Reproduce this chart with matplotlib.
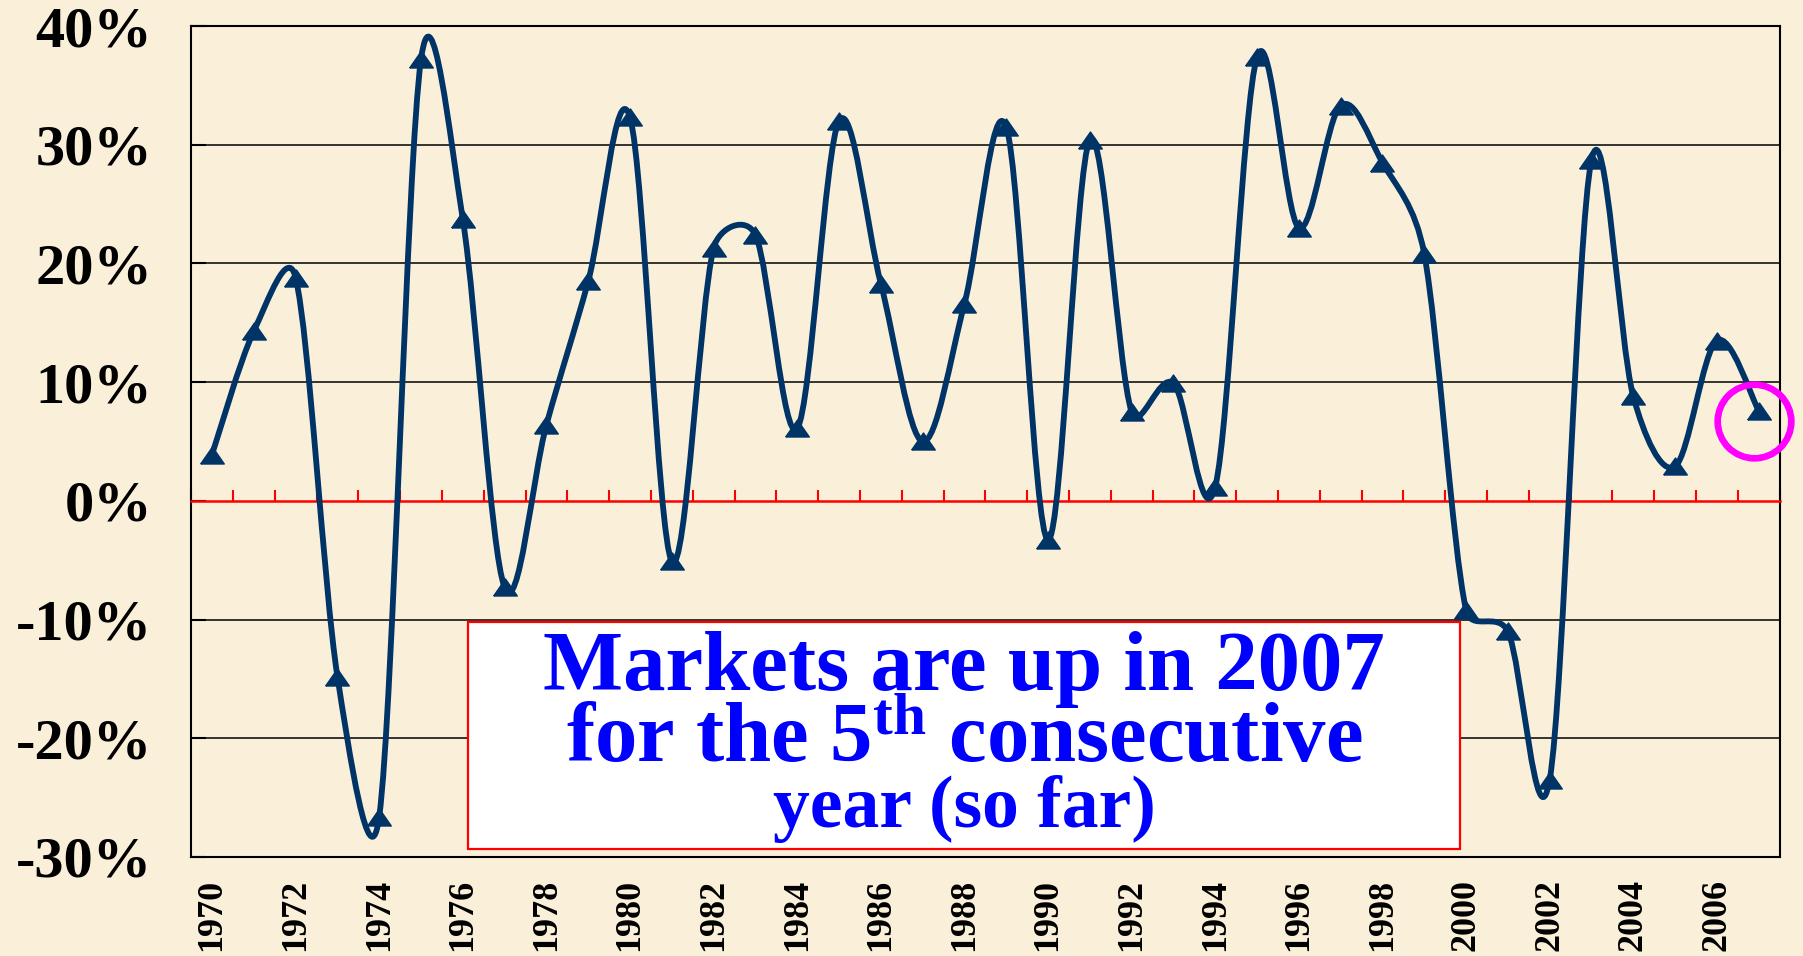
import numpy as np
import matplotlib
matplotlib.use("Agg")
import matplotlib.pyplot as plt
from matplotlib.path import Path
from matplotlib.patches import PathPatch, Rectangle
import matplotlib.transforms as mtransforms

# ---------------- data ----------------
years = list(range(1970, 2008))
returns = [3.9, 14.3, 18.8, -14.8, -26.6, 37.2, 23.7, -7.3, 6.4, 18.5,
           32.3, -5.1, 21.3, 22.4, 6.1, 32.0, 18.3, 5.0, 16.6, 31.5,
           -3.3, 30.4, 7.5, 9.9, 1.2, 37.4, 23.0, 33.3, 28.5, 20.8,
           -9.2, -11.0, -23.5, 28.7, 8.8, 2.9, 13.5, 7.6]
xtick_labels = [str(y) for y in years[::2]]
ytick_values = [-30, -20, -10, 0, 10, 20, 30, 40]
ytick_labels = [f"{v}%" for v in ytick_values]
box_line1 = "Markets are up in 2007"
box_line2 = r"for the 5$^{\mathrm{th}}$ consecutive"
box_line3 = "year (so far)"

# ---------------- style ----------------
BG = "#FAF0DA"
NAVY = "#003366"
SERIF = "Liberation Serif"
plt.rcParams["font.family"] = [SERIF, "DejaVu Serif"]
plt.rcParams["mathtext.fontset"] = "custom"
plt.rcParams["mathtext.rm"] = "Liberation Serif:bold"
plt.rcParams["mathtext.it"] = "Liberation Serif:bold"
plt.rcParams["mathtext.bf"] = "Liberation Serif:bold"

fig = plt.figure(figsize=(18.03, 9.56), dpi=100)
fig.patch.set_facecolor(BG)
ax = fig.add_axes([0.106, 0.1036, 0.881, 0.8692])
ax.set_facecolor(BG)

n = len(returns)
x = np.arange(n)
y = np.array(returns, dtype=float)
ax.set_xlim(-0.5, n - 0.5)
ax.set_ylim(ytick_values[0], ytick_values[-1])

# gridlines (black) except zero
for v in ytick_values:
    if v != 0:
        ax.axhline(v, color="black", lw=1.1, zorder=1)

# smoothed line: Excel-like bezier, control offsets (1/6 of the neighbour chord)
# capped at half the segment length, computed in screen space
pts = ax.transData.transform(np.column_stack([x, y]))
dverts = [pts[0]]
codes = [Path.MOVETO]
for i in range(n - 1):
    p0 = pts[max(i - 1, 0)]
    p1 = pts[i]
    p2 = pts[i + 1]
    p3 = pts[min(i + 2, n - 1)]
    half = np.hypot(*(p2 - p1)) / 2.0
    o1 = (p2 - p0) / 6.0
    o2 = (p3 - p1) / 6.0
    l1 = np.hypot(*o1)
    l2 = np.hypot(*o2)
    if l1 > half:
        o1 = o1 * half / l1
    if l2 > half:
        o2 = o2 * half / l2
    dverts += [p1 + o1, p2 - o2, p2]
    codes += [Path.CURVE4, Path.CURVE4, Path.CURVE4]
verts = ax.transData.inverted().transform(np.array(dverts))
curve = PathPatch(Path(verts, codes), facecolor="none", edgecolor=NAVY,
                  lw=4.2, zorder=3, capstyle="round", joinstyle="round")
ax.add_patch(curve)

tri = [(-1, -0.72), (1, -0.72), (0, 0.72), (-1, -0.72)]
ax.plot(x, y, linestyle="none", marker=tri, markersize=17,
        color=NAVY, zorder=4)

# highlight circle around last point
circ_tr = mtransforms.offset_copy(ax.transData, fig=fig, x=-5, y=-10, units="dots")
ax.plot([x[-1]], [y[-1]], linestyle="none", marker="o", markersize=53,
        markerfacecolor="none", markeredgecolor="#FF00FF", markeredgewidth=4.8,
        transform=circ_tr, clip_on=False, zorder=6)

# text box
ax.add_patch(Rectangle((0.1743, 0.0096), 0.6243, 0.2732, transform=ax.transAxes,
                       facecolor="white", edgecolor="red", lw=1.6, zorder=2))
fig.text(0.5347, 0.2782, box_line1, ha="center", va="baseline", color="#0000FF",
         fontsize=61, fontweight="bold", family=SERIF, zorder=7)
fig.text(0.5347, 0.2029, box_line2, ha="center", va="baseline", color="#0000FF",
         fontsize=61, fontweight="bold", family=SERIF, zorder=7)
fig.text(0.5347, 0.1349, box_line3, ha="center", va="baseline", color="#0000FF",
         fontsize=53, fontweight="bold", family=SERIF, zorder=7)

# zero axis (red) with upward ticks at category boundaries
ax.spines["bottom"].set_position(("data", 0))
ax.spines["bottom"].set_color("red")
ax.spines["bottom"].set_linewidth(1.8)
ax.spines["bottom"].set_zorder(2.5)
ax.set_xticks(np.arange(-0.5, n, 1.0))
ax.tick_params(axis="x", direction="in", length=8, width=1.5, color="red",
               labelbottom=False)

for s in ("left", "right", "top"):
    ax.spines[s].set_color("black")
    ax.spines[s].set_linewidth(1.5)

# category labels on the frame bottom
sec = ax.secondary_xaxis("bottom")
sec.spines["bottom"].set_color("black")
sec.spines["bottom"].set_linewidth(1.5)
sec.set_xticks(x[::2])
sec.set_xticklabels(xtick_labels, rotation=90, fontsize=26, fontweight="bold",
                    family=SERIF, va="top")
sec.tick_params(axis="x", length=0, pad=16)

ax.set_yticks(ytick_values)
ax.set_yticklabels(ytick_labels, fontsize=42, fontweight="bold", family=SERIF)
ax.tick_params(axis="y", direction="in", length=11, width=1.5, color="black", pad=28)

fig.savefig("out.png", dpi=100, facecolor=BG)
